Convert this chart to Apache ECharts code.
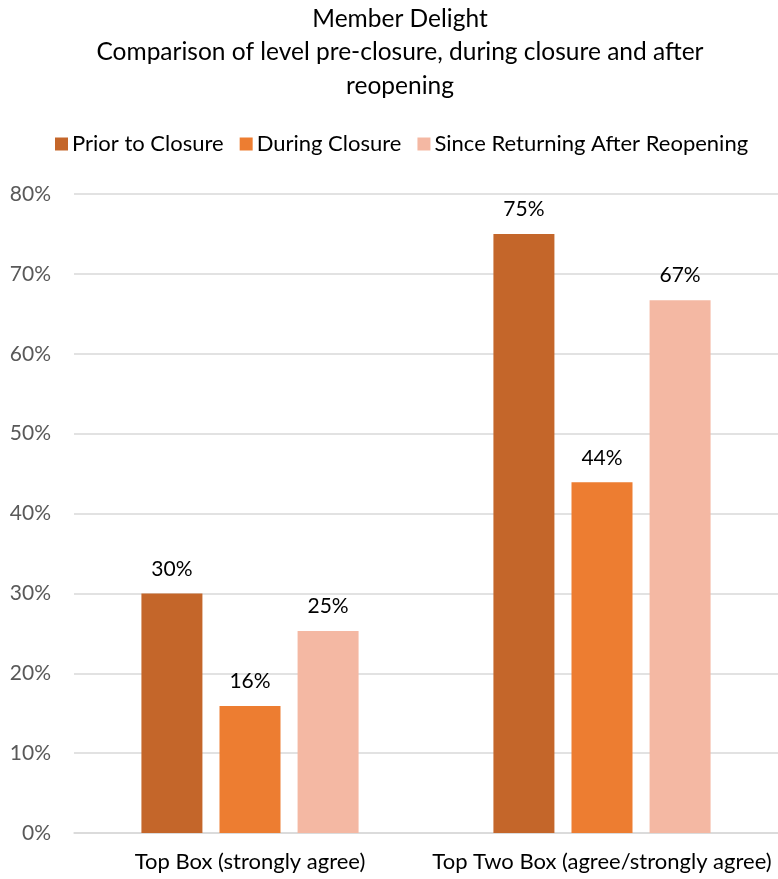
<!DOCTYPE html>
<html>
<head>
<meta charset="utf-8">
<script src="https://cdn.jsdelivr.net/npm/echarts@6/dist/echarts.min.js"></script>
<style>
  html, body { margin: 0; padding: 0; background: #ffffff; }
  #chart { width: 778px; height: 879px; }
</style>
</head>
<body>
<div id="chart"></div>
<script>
// Survey groupings along the x axis
const categories = ['Top Box (strongly agree)', 'Top Two Box (agree/strongly agree)'];

// Share of members (%) for each period
const priorToClosure = [30.0, 75.0];
const duringClosure = [15.9, 43.9];
const sinceReopening = [25.3, 66.7];

const seriesNames = ['Prior to Closure', 'During Closure', 'Since Returning After Reopening'];
const seriesColors = ['#C4662A', '#ED7D31', '#F4B8A3'];

// Value axis ticks (%)
const yTicks = [0, 10, 20, 30, 40, 50, 60, 70, 80];

const FONT = 'Lato, "Open Sans", sans-serif';

const chart = echarts.init(document.getElementById('chart'), null, { renderer: 'canvas' });

const makeSeries = (name, data, color) => ({
  name: name,
  type: 'bar',
  data: data,
  barWidth: 61,
  barGap: '28%',
  itemStyle: { color: color },
  label: {
    show: true,
    position: 'top',
    distance: 14,
    color: '#000000',
    fontFamily: FONT,
    fontSize: 21,
    formatter: p => Math.round(p.value) + '%'
  }
});

chart.setOption({
  backgroundColor: '#ffffff',
  animation: false,
  title: {
    text: 'Member Delight\nComparison of level pre-closure, during closure and after\nreopening',
    left: 400,
    textAlign: 'center',
    top: 2,
    padding: 0,
    textStyle: {
      fontFamily: FONT,
      fontSize: 24.5,
      fontWeight: 'normal',
      color: '#000000',
      lineHeight: 33.5
    }
  },
  legend: {
    data: seriesNames,
    top: 128,
    left: 50,
    itemWidth: 13,
    itemHeight: 13,
    itemGap: 16,
    icon: 'rect',
    textStyle: { fontFamily: FONT, fontSize: 22, color: '#000000', padding: [0, 0, 0, -1] }
  },
  grid: {
    left: 74,
    right: 0,
    top: 194,
    bottom: 46,
    containLabel: false
  },
  xAxis: {
    type: 'category',
    data: categories,
    axisTick: { show: false },
    axisLine: { lineStyle: { color: '#D9D9D9', width: 1.5 } },
    axisLabel: { interval: 0, fontFamily: FONT, fontSize: 22, color: '#000000', margin: 18 }
  },
  yAxis: {
    type: 'value',
    min: yTicks[0],
    max: yTicks[yTicks.length - 1],
    interval: 10,
    axisLabel: {
      fontFamily: FONT,
      fontSize: 21,
      color: '#595959',
      margin: 23,
      formatter: v => v + '%'
    },
    axisLine: { show: false },
    axisTick: { show: false },
    splitLine: { lineStyle: { color: '#D9D9D9', width: 1.5 } }
  },
  series: [
    makeSeries(seriesNames[0], priorToClosure, seriesColors[0]),
    makeSeries(seriesNames[1], duringClosure, seriesColors[1]),
    makeSeries(seriesNames[2], sinceReopening, seriesColors[2])
  ]
});
</script>
</body>
</html>
